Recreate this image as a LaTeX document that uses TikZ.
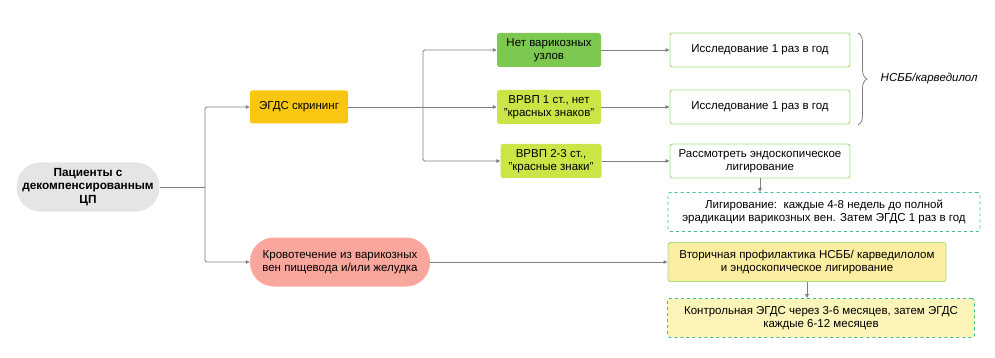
\documentclass[tikz,border=0pt]{standalone}
\usepackage{fontspec}
\setmainfont{Liberation Sans}
\usepackage{tikz}
\usetikzlibrary{arrows.meta,decorations.pathreplacing}

\definecolor{lineg}{HTML}{7F7F7F}
\definecolor{patgray}{HTML}{E5E5E5}
\definecolor{scrnyel}{HTML}{F9C712}
\definecolor{novgreen}{HTML}{7CC850}
\definecolor{gradelime}{HTML}{C9E646}
\definecolor{boxgreen}{HTML}{A3DF80}
\definecolor{bleedred}{HTML}{F9A79C}
\definecolor{secyel}{HTML}{FBEEA0}
\definecolor{ctlyel}{HTML}{FCF4B8}
\definecolor{teal}{HTML}{3DBF9F}

\begin{document}
\begin{tikzpicture}[
  x=1pt, y=-1pt,
  font=\fontsize{11.5}{13.5}\selectfont,
  fillbox/.style={rounded corners=2.5pt, minimum height=34pt, align=center, inner sep=2pt},
  outbox/.style={draw=boxgreen, line width=0.9pt, fill=white, rounded corners=2.5pt,
    minimum width=180pt, minimum height=34pt, align=center, inner sep=2pt},
  dashbox/.style={draw=teal, dashed, line width=0.9pt, rounded corners=2.5pt,
    minimum height=39pt, align=center, inner sep=2pt},
  pill/.style={rounded corners=24pt, minimum height=49pt, align=center, inner sep=2pt},
  conn/.style={draw=lineg, line width=0.8pt, rounded corners=1.5pt},
  arr/.style={conn, -{Triangle[length=4pt, width=3.5pt]}},
]
\useasboundingbox (0,0) rectangle (995,358);

% left side
\node[pill, fill=patgray, minimum width=143pt, font=\fontsize{11.8}{13.5}\selectfont\bfseries] (patient) at (88,187)
  {Пациенты с\\декомпенсированным\\ЦП};
\node[fillbox, fill=scrnyel, minimum width=98pt, minimum height=33pt] (screen) at (299,107)
  {ЭГДС скрининг};
\node[pill, fill=bleedred, minimum width=180pt] (bleed) at (340,262)
  {Кровотечение из варикозных\\вен пищевода и/или желудка};

% screening outcomes
\node[fillbox, fill=novgreen, minimum width=104pt] (novar) at (549,50)
  {Нет варикозных\\узлов};
\node[fillbox, fill=gradelime, minimum width=104pt] (grade1) at (549,107)
  {ВРВП 1 ст., нет\\"красных знаков"};
\node[fillbox, fill=gradelime, minimum width=101pt] (grade2) at (551,161)
  {ВРВП 2-3 ст.,\\"красные знаки"};

\node[outbox] (annual1) at (760,50) {Исследование 1 раз в год};
\node[outbox] (annual2) at (760,107) {Исследование 1 раз в год};
\node[outbox] (consider) at (760,161) {Рассмотреть эндоскопическое\\лигирование};
\node[dashbox, fill=white, minimum width=312pt] (ligation) at (824,212)
  {Лигирование:\ \ каждые 4-8 недель до полной\\эрадикации варикозных вен. Затем ЭГДС 1 раз в год};

% bleeding branch
\node[outbox, fill=secyel, minimum width=278pt, minimum height=39pt] (secondary) at (807,262)
  {Вторичная профилактика НСББ/ карведилолом\\и эндоскопическое лигирование};
\node[dashbox, fill=ctlyel, minimum width=307pt] (control) at (821,318)
  {Контрольная ЭГДС через 3-6 месяцев, затем ЭГДС\\каждые 6-12 месяцев};

% brace
\coordinate (bracetop) at (858,33);
\coordinate (bracebot) at (858,125);
\draw[lineg, line width=0.8pt, decorate, decoration={brace, amplitude=9pt}]
  (bracetop) -- (bracebot) node[midway, right=19pt, text=black, font=\fontsize{11.5}{13.5}\selectfont\itshape] (drug) {НСББ/карведилол};

% connectors
\coordinate (trunk) at (205,187);
\coordinate (fork) at (423,107);
\draw[conn] (patient.east) -- (trunk);
\draw[arr] (trunk) |- (screen.west);
\draw[arr] (trunk) |- (bleed.west);
\draw[arr] (screen.east) -- (grade1.west);
\draw[arr] (fork) |- (novar.west);
\draw[arr] (fork) |- (grade2.west);
\draw[arr] (novar.east) -- (annual1.west);
\draw[arr] (grade1.east) -- (annual2.west);
\draw[arr] (grade2.east) -- (consider.west);
\draw[arr] (consider.south) -- (ligation.north -| consider.south);
\draw[arr] (bleed.east) -- (secondary.west);
\draw[arr] (secondary.south) -- (control.north -| secondary.south);

\end{tikzpicture}
\end{document}
